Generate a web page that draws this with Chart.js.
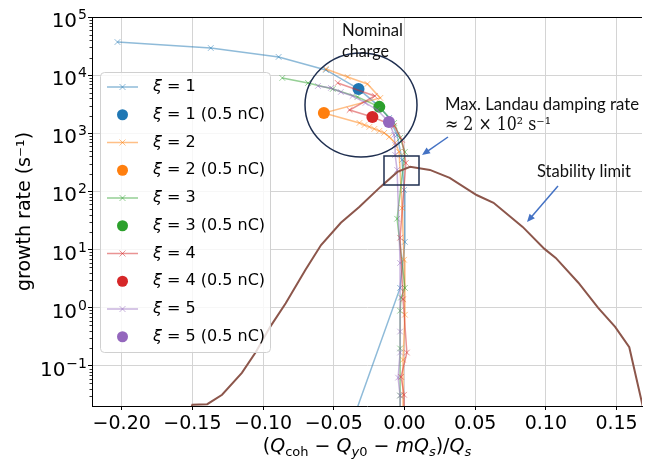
<!DOCTYPE html>
<html>
<head>
<meta charset="utf-8">
<script src="https://cdn.jsdelivr.net/npm/chart.js@4.4.1/dist/chart.umd.min.js"></script>
<style>
html,body{margin:0;padding:0;background:#fff}
#wrap{width:648px;height:460px}
</style>
</head>
<body>
<div id="wrap"><canvas id="grafico" width="648" height="460"></canvas></div>
<script>
// ticks
const xTicks = [-0.20,-0.15,-0.10,-0.05,0.00,0.05,0.10,0.15];
const xTickLabels = ["−0.20","−0.15","−0.10","−0.05","0.00","0.05","0.10","0.15"];
const yTicks = [0.1,1,10,100,1000,10000,100000];
const yTickExp = ["−1","0","1","2","3","4","5"];

// series (x = (Qcoh - Qy0 - mQs)/Qs, y = growth rate)
const xi1X = [-0.203,-0.137,-0.089,-0.0556,-0.0325,-0.0192,-0.0108,-0.0052,-0.0017,-0.0003,0.0003,-0.0031,-0.0426];
const xi1Y = [37100,29300,20600,12300,5800,3080,1840,940,349,106,13.6,2.2,0.0045];
const xi2X = [-0.0556,-0.0402,-0.0262,-0.0171,-0.057,-0.0318,-0.0283,-0.0248,-0.0213,-0.0178,-0.0143,-0.0108,-0.0066,-0.0038,-0.0017,-0.0003,0.0003,-0.001,-0.001];
const xi2Y = [12800,9310,7060,4060,2240,1510,1390,1290,1190,1100,1020,867,684,479,52,6.7,0.76,0.128,0.012];
const xi3X = [-0.0864,-0.0682,-0.0507,-0.0332,-0.0178,-0.0073,-0.0031,0.0003,-0.0052,0.0003,-0.0024,-0.0031,-0.0031,-0.0031,-0.003];
const xi3Y = [8960,7350,5790,4220,2850,1510,834,479,34,2.2,1.5,0.89,0.2,0.031,0.012];
const xi4X = [-0.0472,-0.021,-0.0388,-0.0227,-0.0073,-0.0017,0.001,-0.0031,-0.001,0.0017,-0.0024,-0.0003,-0.0003];
const xi4Y = [7350,4390,2520,1910,1340,771,310,16,1.4,0.17,0.065,0.032,0.01];
const xi5X = [-0.0612,-0.052,-0.045,-0.0367,-0.0276,-0.0192,-0.011,-0.0073,-0.0066,-0.0066,-0.0052,-0.0031,-0.0031,-0.0031,-0.0045,-0.0031,-0.0031];
const xi5Y = [6520,6030,5140,4390,3330,2520,1570,940,632,426,235,5.9,0.39,0.17,0.063,0.031,0.012];

// 0.5 nC points, one per xi
const dotX = [-0.0325,-0.057,-0.0178,-0.0227,-0.011];
const dotY = [5800,2240,2850,1910,1570];

// stability limit
const stabX = [-0.16,-0.150,-0.1395,-0.129,-0.115,-0.105,-0.095,-0.084,-0.070,-0.059,-0.045,-0.032,-0.017,-0.005,0.004,0.018,0.032,0.051,0.063,0.0836,0.099,0.107,0.123,0.137,0.149,0.159,0.172];
const stabY = [0.005,0.0215,0.022,0.032,0.076,0.175,0.47,1.2,4.5,12,29,54,120,217,265,235,171,87,64,24.6,10.3,7.2,2.7,1.0,0.47,0.21,0.0087];

const xiNames = ["1","2","3","4","5"];
const cores = ["31,119,180","255,127,14","44,160,44","214,39,40","148,103,189"];

const linhasX = [xi1X,xi2X,xi3X,xi4X,xi5X];
const linhasY = [xi1Y,xi2Y,xi3Y,xi4Y,xi5Y];

const pts = (xs,ys)=>xs.map((v,i)=>({x:v,y:ys[i]}));

let datasets = [];
let ordem = 100;
linhasX.forEach((xs,i)=>{
  datasets.push({
    label:"ξ = "+xiNames[i],
    data:pts(xs,linhasY[i]),
    showLine:true,
    borderColor:"rgba("+cores[i]+",0.5)",
    backgroundColor:"rgba("+cores[i]+",0.5)",
    borderWidth:1.5,
    pointStyle:"crossRot",
    pointRadius:4,
    pointBorderWidth:1,
    order:ordem--
  });
  datasets.push({
    label:"ξ = "+xiNames[i]+" (0.5 nC)",
    data:[{x:dotX[i],y:dotY[i]}],
    showLine:false,
    backgroundColor:"rgb("+cores[i]+")",
    borderColor:"rgb("+cores[i]+")",
    borderWidth:0,
    pointStyle:"circle",
    pointRadius:6,
    pointBorderWidth:0,
    order:ordem--
  });
});
datasets.push({
  label:"stability",
  data:pts(stabX,stabY),
  showLine:true,
  borderColor:"rgb(140,86,75)",
  borderWidth:2,
  pointRadius:0,
  order:ordem--
});

function textoRico(ctx,segs,cx,base,size){
  const fam = "'DejaVu Sans'";
  const fontOf = s=>(s[1].includes("i")?"italic ":"")+(s[1].includes("s")?Math.round(size*0.7):size)+"px "+fam;
  let w = 0;
  segs.forEach(s=>{ctx.font=fontOf(s); w+=ctx.measureText(s[0]).width;});
  let x = cx-w/2;
  ctx.textAlign="left"; ctx.textBaseline="alphabetic";
  segs.forEach(s=>{
    ctx.font=fontOf(s);
    ctx.fillText(s[0],x,base+(s[1].includes("s")?4:0));
    x+=ctx.measureText(s[0]).width;
  });
}

function seta(ctx,x1,y1,x2,y2){
  const ang = Math.atan2(y2-y1,x2-x1);
  ctx.beginPath(); ctx.moveTo(x1,y1); ctx.lineTo(x2-6*Math.cos(ang),y2-6*Math.sin(ang)); ctx.stroke();
  ctx.beginPath();
  ctx.moveTo(x2,y2);
  ctx.lineTo(x2-8*Math.cos(ang)+3.5*Math.sin(ang),y2-8*Math.sin(ang)-3.5*Math.cos(ang));
  ctx.lineTo(x2-8*Math.cos(ang)-3.5*Math.sin(ang),y2-8*Math.sin(ang)+3.5*Math.cos(ang));
  ctx.closePath(); ctx.fill();
}

const extras = {
  id:"extras",
  afterDraw(chart){
    const ctx = chart.ctx, a = chart.chartArea, y = chart.scales.y;
    ctx.save();
    ctx.strokeStyle="#000"; ctx.lineWidth=1;
    ctx.beginPath(); ctx.moveTo(a.left,a.top+0.5); ctx.lineTo(a.right,a.top+0.5); ctx.stroke();

    // minor ticks on the log axis
    ctx.beginPath();
    for(let e=-2;e<5;e++){
      for(let k=2;k<10;k++){
        const v=k*Math.pow(10,e);
        if(v<y.min||v>y.max) continue;
        const py=Math.round(y.getPixelForValue(v))+0.5;
        ctx.moveTo(a.left-2.5,py); ctx.lineTo(a.left,py);
      }
    }
    ctx.lineWidth=0.8; ctx.stroke();

    // y tick labels: 10 with exponent
    ctx.fillStyle="#000"; ctx.textBaseline="alphabetic"; ctx.textAlign="right";
    yTicks.forEach((v,i)=>{
      const py=y.getPixelForValue(v);
      ctx.font="14px 'DejaVu Sans'";
      const we=ctx.measureText(yTickExp[i]).width;
      ctx.fillText(yTickExp[i],87,py+2);
      ctx.font="20px 'DejaVu Sans'";
      ctx.fillText("10",87-we-1,py+10);
    });

    // axis titles
    textoRico(ctx,[["(",""],["Q","i"],["coh","s"],[" − ",""],["Q","i"],["y","is"],["0","s"],[" − ",""],["mQ","i"],["s","is"],[")/",""],["Q","i"],["s","is"]],(a.left+a.right)/2,452,19);
    ctx.save();
    ctx.translate(25,(a.top+a.bottom)/2); ctx.rotate(-Math.PI/2);
    ctx.font="19px 'DejaVu Sans'"; ctx.textAlign="center"; ctx.textBaseline="middle";
    ctx.fillText("growth rate (s⁻¹)",0,0);
    ctx.restore();

    // legend
    const lx=100, ly=72, lw=170, lh=280;
    ctx.beginPath(); ctx.roundRect(lx+0.5,ly+0.5,lw,lh,4);
    ctx.fillStyle="rgba(255,255,255,0.8)"; ctx.fill();
    ctx.strokeStyle="#d0d0d0"; ctx.lineWidth=1; ctx.stroke();
    for(let i=0;i<10;i++){
      const s=Math.floor(i/2), yy=87+i*27.75;
      if(i%2===0){
        ctx.strokeStyle="rgba("+cores[s]+",0.5)"; ctx.lineWidth=1.5;
        ctx.beginPath(); ctx.moveTo(107,yy); ctx.lineTo(138,yy); ctx.stroke();
        ctx.lineWidth=1;
        ctx.beginPath(); ctx.moveTo(119.5,yy-3); ctx.lineTo(125.5,yy+3); ctx.moveTo(125.5,yy-3); ctx.lineTo(119.5,yy+3); ctx.stroke();
      } else {
        ctx.fillStyle="rgb("+cores[s]+")";
        ctx.beginPath(); ctx.arc(122.5,yy,5.5,0,Math.PI*2); ctx.fill();
      }
      ctx.fillStyle="#000"; ctx.textBaseline="middle"; ctx.textAlign="left";
      ctx.font="italic 16px 'DejaVu Sans'";
      ctx.fillText("ξ",153,yy);
      const wx=ctx.measureText("ξ").width;
      ctx.font="16px 'DejaVu Sans'";
      ctx.fillText(" = "+xiNames[s]+(i%2?" (0.5 nC)":""),153+wx,yy);
    }

    // annotations
    ctx.strokeStyle="#1f2f50"; ctx.lineWidth=1.5;
    ctx.beginPath(); ctx.ellipse(361,105,56,52,0,0,Math.PI*2); ctx.stroke();
    ctx.strokeRect(384,156,35,29);

    ctx.fillStyle="#111"; ctx.textAlign="left"; ctx.textBaseline="alphabetic";
    ctx.font="17px Lato";
    ctx.fillText("Nominal",342,36,61);
    ctx.fillText("charge",342,57,47);
    ctx.fillText("Max. Landau damping rate",445,110,194);
    ctx.fillText("Stability limit",537,177,94);
    ctx.font="18px 'DejaVu Serif'";
    ctx.fillText("≈ 2 × 10² s⁻¹",445,130,106);

    ctx.strokeStyle="#4472c4"; ctx.fillStyle="#4472c4"; ctx.lineWidth=1.5;
    seta(ctx,448,137,422,155);
    seta(ctx,558,186,527,222);
    ctx.restore();
  }
};

const ctx = document.getElementById("grafico");

let grafico = new Chart(ctx,{
  type:"scatter",
  data:{datasets:datasets},
  options:{
    responsive:false,
    animation:false,
    devicePixelRatio:1,
    layout:{padding:{top:17,left:0,right:0,bottom:0}},
    plugins:{legend:{display:false},tooltip:{enabled:false}},
    scales:{
      x:{
        type:"linear",
        min:-0.221,
        max:0.168,
        afterBuildTicks:s=>{s.ticks=xTicks.map(v=>({value:v}));},
        afterFit:s=>{s.height=54;},
        ticks:{
          callback:(v,i)=>xTickLabels[i],
          font:{family:"'DejaVu Sans'",size:19},
          color:"#000",
          padding:3,
          maxRotation:0,
          autoSkip:false
        },
        grid:{color:"#d4d4d4",lineWidth:1,tickColor:"#000",tickLength:4},
        border:{color:"#000",width:1}
      },
      y:{
        type:"logarithmic",
        min:0.0205,
        max:100000,
        afterBuildTicks:s=>{s.ticks=yTicks.map(v=>({value:v}));},
        afterFit:s=>{s.width=92;},
        ticks:{display:false},
        grid:{color:"#d4d4d4",lineWidth:1,tickColor:"#000",tickLength:4,drawTicks:true},
        border:{color:"#000",width:1}
      }
    }
  },
  plugins:[extras]
});
</script>
</body>
</html>
